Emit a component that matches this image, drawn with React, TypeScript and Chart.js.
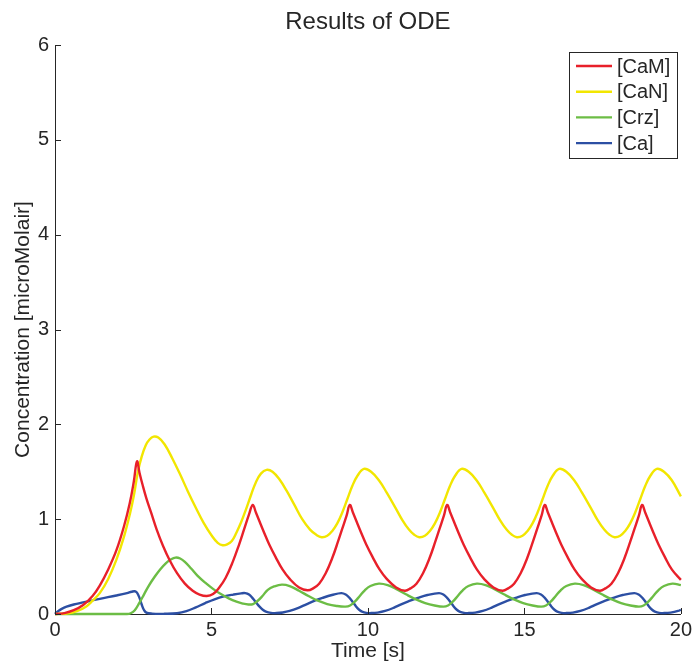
import React, { useEffect, useRef } from 'react';
import { Chart, registerables } from 'chart.js';

Chart.register(...registerables);

const TITLE = 'Results of ODE';
const X_LABEL = 'Time [s]';
const Y_LABEL = 'Concentration [microMolair]';
const X_TICKS = [0, 5, 10, 15, 20];
const Y_TICKS = [0, 1, 2, 3, 4, 5, 6];
const SERIES_NAMES = ['[CaM]', '[CaN]', '[Crz]', '[Ca]'];
const SERIES_COLORS = ['#e8202a', '#f2e600', '#6cbd45', '#2c4fa3'];

// [CaM]
const camT = [
  0, 0.3, 0.6, 0.9, 1.2, 1.43, 1.7, 1.96, 2.2, 2.39,
  2.52, 2.62, 2.7, 2.8, 2.92, 3.08, 3.25, 3.45, 3.66, 3.9,
  4.15, 4.4, 4.62, 4.85, 5.05, 5.25, 5.45, 5.68, 5.88, 6.05,
  6.2, 6.32, 6.42, 6.53, 6.68, 6.85, 7.05, 7.27, 7.5, 7.8,
  8.07, 8.25, 8.44, 8.65, 8.86, 9.05, 9.18, 9.32, 9.42, 9.52, 9.63, 9.78, 9.95, 10.15, 10.37, 10.6, 10.9,
  11.18, 11.36, 11.55, 11.76, 11.97, 12.16, 12.29, 12.43, 12.53, 12.63, 12.74, 12.89, 13.06, 13.26, 13.48, 13.71, 14.01,
  14.3, 14.48, 14.67, 14.88, 15.09, 15.28, 15.41, 15.55, 15.65, 15.75, 15.86, 16.01, 16.18, 16.38, 16.6, 16.83, 17.13,
  17.41, 17.59, 17.78, 17.99, 18.2, 18.39, 18.52, 18.66, 18.76, 18.86, 18.97, 19.12, 19.29, 19.49, 19.71, 20,
];
const camV = [
  0, 0.01, 0.04, 0.095, 0.19, 0.3, 0.47, 0.67, 0.92, 1.17,
  1.4, 1.61, 1.49, 1.36, 1.22, 1.06, 0.89, 0.72, 0.57, 0.43,
  0.32, 0.245, 0.205, 0.19, 0.21, 0.28, 0.38, 0.55, 0.73, 0.9,
  1.05, 1.15, 1.07, 0.98, 0.86, 0.73, 0.6, 0.47, 0.37, 0.28,
  0.25, 0.27, 0.32, 0.43, 0.59, 0.77, 0.9, 1.04, 1.15, 1.07, 0.98, 0.86, 0.73, 0.6, 0.47, 0.37, 0.28,
  0.245, 0.27, 0.32, 0.43, 0.59, 0.77, 0.9, 1.04, 1.15, 1.07, 0.98, 0.86, 0.73, 0.6, 0.47, 0.37, 0.28,
  0.245, 0.27, 0.32, 0.43, 0.59, 0.77, 0.9, 1.04, 1.15, 1.07, 0.98, 0.86, 0.73, 0.6, 0.47, 0.37, 0.28,
  0.245, 0.27, 0.32, 0.43, 0.59, 0.77, 0.9, 1.04, 1.15, 1.07, 0.98, 0.86, 0.73, 0.6, 0.47, 0.36,
];

// [CaN]
const canT = [
  0, 0.37, 0.7, 1.0, 1.2, 1.43, 1.7, 1.96, 2.2, 2.39,
  2.52, 2.65, 2.77, 2.9, 3.02, 3.15, 3.3, 3.5, 3.75, 4.0,
  4.25, 4.5, 4.75, 5.0, 5.2, 5.36, 5.5, 5.65, 5.8, 5.95,
  6.1, 6.27, 6.42, 6.58, 6.76, 6.95, 7.17, 7.4, 7.65, 7.9,
  8.15, 8.35,
  8.52, 8.7, 8.86, 9.02, 9.18, 9.34, 9.5, 9.67, 9.87, 10.1, 10.35, 10.6, 10.88, 11.1, 11.31, 11.48,
  11.64, 11.82, 11.98, 12.14, 12.3, 12.46, 12.62, 12.79, 12.99, 13.22, 13.47, 13.72, 14.0, 14.22, 14.43, 14.6,
  14.76, 14.94, 15.1, 15.26, 15.42, 15.58, 15.74, 15.91, 16.11, 16.34, 16.59, 16.84, 17.12, 17.34, 17.55, 17.72,
  17.88, 18.06, 18.22, 18.38, 18.54, 18.7, 18.86, 19.03, 19.23, 19.46, 19.71, 20,
];
const canV = [
  0, 0.005, 0.03, 0.08, 0.14, 0.22, 0.37, 0.57, 0.81, 1.05,
  1.25, 1.5, 1.66, 1.78, 1.84, 1.87, 1.86, 1.79, 1.64, 1.47,
  1.29, 1.12, 0.96, 0.83, 0.75, 0.725, 0.735, 0.77, 0.86, 0.97,
  1.1, 1.26, 1.39, 1.48, 1.52, 1.5, 1.42, 1.3, 1.15, 1.0,
  0.89, 0.835,
  0.81, 0.825, 0.875, 0.955, 1.07, 1.21, 1.35, 1.46, 1.53, 1.5, 1.41, 1.28, 1.12, 0.99, 0.89, 0.835,
  0.81, 0.825, 0.875, 0.955, 1.07, 1.21, 1.35, 1.46, 1.53, 1.5, 1.41, 1.28, 1.12, 0.99, 0.89, 0.835,
  0.81, 0.825, 0.875, 0.955, 1.07, 1.21, 1.35, 1.46, 1.53, 1.5, 1.41, 1.28, 1.12, 0.99, 0.89, 0.835,
  0.81, 0.825, 0.875, 0.955, 1.07, 1.21, 1.35, 1.46, 1.53, 1.5, 1.41, 1.24,
];

// [Crz]
const crzT = [
  0, 2.3, 2.42, 2.55, 2.7, 2.85, 3.0, 3.18, 3.36, 3.54,
  3.7, 3.85, 4.0, 4.15, 4.35, 4.55, 4.8, 5.05, 5.3, 5.55,
  5.8, 6.0, 6.18, 6.33, 6.48, 6.63, 6.8, 7.0, 7.25, 7.5,
  7.8, 8.1, 8.4, 8.7, 9.0,
  9.28, 9.43, 9.58, 9.74, 9.9, 10.08, 10.35, 10.63, 10.93, 11.23, 11.53, 11.83, 12.13,
  12.41, 12.56, 12.71, 12.87, 13.03, 13.21, 13.48, 13.76, 14.06, 14.36, 14.66, 14.96, 15.26,
  15.54, 15.69, 15.84, 16.0, 16.16, 16.34, 16.61, 16.89, 17.19, 17.49, 17.79, 18.09, 18.39,
  18.66, 18.81, 18.96, 19.12, 19.28, 19.46, 19.73, 20,
];
const crzV = [
  0, 0, 0.008, 0.04, 0.12, 0.21, 0.3, 0.39, 0.47, 0.535,
  0.575, 0.595, 0.585, 0.55, 0.48, 0.405, 0.33, 0.265, 0.21, 0.165,
  0.13, 0.11, 0.1, 0.105, 0.14, 0.19, 0.255, 0.29, 0.31, 0.295,
  0.245, 0.19, 0.14, 0.105, 0.085,
  0.078, 0.09, 0.13, 0.19, 0.25, 0.295, 0.32, 0.305, 0.26, 0.205, 0.155, 0.115, 0.09,
  0.078, 0.09, 0.13, 0.19, 0.25, 0.295, 0.32, 0.305, 0.26, 0.205, 0.155, 0.115, 0.09,
  0.078, 0.09, 0.13, 0.19, 0.25, 0.295, 0.32, 0.305, 0.26, 0.205, 0.155, 0.115, 0.09,
  0.078, 0.09, 0.13, 0.19, 0.25, 0.295, 0.32, 0.305,
];

// [Ca]
const caT = [
  0, 0.1, 0.2, 0.37, 0.6, 0.9, 1.43, 1.96, 2.3, 2.45,
  2.55, 2.62, 2.7, 2.77, 2.84, 2.92, 3.1, 3.5, 3.9, 4.2,
  4.5, 4.8, 5.1, 5.4, 5.7, 5.95, 6.08, 6.2, 6.32, 6.43,
  6.53, 6.64, 6.74, 6.9, 7.08, 7.28, 7.5, 7.78, 8.05, 8.3,
  8.55, 8.85,
  9.15, 9.29, 9.41, 9.52, 9.62, 9.72, 9.81, 9.95, 10.12, 10.31, 10.55, 10.82, 11.08, 11.35, 11.6, 11.9,
  12.27, 12.41, 12.53, 12.64, 12.74, 12.84, 12.93, 13.07, 13.24, 13.43, 13.67, 13.94, 14.2, 14.47, 14.72, 15.02,
  15.39, 15.53, 15.65, 15.76, 15.86, 15.96, 16.05, 16.19, 16.36, 16.55, 16.79, 17.06, 17.32, 17.59, 17.84, 18.14,
  18.51, 18.65, 18.77, 18.88, 18.98, 19.08, 19.17, 19.31, 19.48, 19.67, 19.91, 20,
];
const caV = [
  0, 0.03, 0.052, 0.078, 0.1, 0.122, 0.16, 0.195, 0.22, 0.235,
  0.24, 0.225, 0.17, 0.1, 0.045, 0.015, 0.004, 0.002, 0.008, 0.03,
  0.07, 0.115, 0.155, 0.185, 0.205, 0.218, 0.22, 0.205, 0.165, 0.12,
  0.08, 0.045, 0.025, 0.012, 0.01, 0.016, 0.032, 0.065, 0.105, 0.14,
  0.17, 0.2,
  0.22, 0.205, 0.17, 0.125, 0.08, 0.045, 0.025, 0.012, 0.01, 0.015, 0.032, 0.065, 0.105, 0.14, 0.17, 0.2,
  0.22, 0.205, 0.17, 0.125, 0.08, 0.045, 0.025, 0.012, 0.01, 0.015, 0.032, 0.065, 0.105, 0.14, 0.17, 0.2,
  0.22, 0.205, 0.17, 0.125, 0.08, 0.045, 0.025, 0.012, 0.01, 0.015, 0.032, 0.065, 0.105, 0.14, 0.17, 0.2,
  0.22, 0.205, 0.17, 0.125, 0.08, 0.045, 0.025, 0.012, 0.01, 0.015, 0.032, 0.045,
];

const SERIES_T = [camT, canT, crzT, caT];
const SERIES_V = [camV, canV, crzV, caV];

const FONT = '"Liberation Sans", Arial, Helvetica, sans-serif';
const INK = '#262626';

const decorPlugin = {
  id: 'decor',
  afterDraw(chart: any) {
    const { ctx, chartArea: a, scales } = chart;
    const x = scales.x;
    const y = scales.y;
    ctx.save();
    ctx.strokeStyle = INK;
    ctx.lineWidth = 1;
    ctx.beginPath();
    for (const t of X_TICKS) {
      const px = Math.round(x.getPixelForValue(t)) + 0.5;
      ctx.moveTo(px, a.bottom);
      ctx.lineTo(px, a.bottom - 6);
    }
    for (const t of Y_TICKS) {
      const py = Math.round(y.getPixelForValue(t)) + 0.5;
      ctx.moveTo(a.left, py);
      ctx.lineTo(a.left + 6, py);
    }
    ctx.stroke();

    ctx.fillStyle = INK;
    ctx.textAlign = 'center';
    ctx.textBaseline = 'alphabetic';
    ctx.font = `24px ${FONT}`;
    ctx.fillText(TITLE, (a.left + a.right) / 2, 29);

    ctx.font = `21px ${FONT}`;
    ctx.textBaseline = 'middle';
    ctx.fillText(X_LABEL, (a.left + a.right) / 2, 651);

    ctx.save();
    ctx.translate(23, (a.top + a.bottom) / 2);
    ctx.rotate(-Math.PI / 2);
    ctx.fillText(Y_LABEL, 0, 0);
    ctx.restore();

    const bx = 569.5, by = 52.5, bw = 108, bh = 106;
    ctx.fillStyle = '#ffffff';
    ctx.fillRect(bx, by, bw, bh);
    ctx.strokeStyle = INK;
    ctx.lineWidth = 1;
    ctx.strokeRect(bx, by, bw, bh);
    ctx.font = `20px ${FONT}`;
    ctx.textAlign = 'left';
    ctx.textBaseline = 'middle';
    SERIES_NAMES.forEach((name, i) => {
      const ry = 66 + i * 25.7;
      ctx.strokeStyle = SERIES_COLORS[i];
      ctx.lineWidth = 2.4;
      ctx.beginPath();
      ctx.moveTo(576, ry);
      ctx.lineTo(612, ry);
      ctx.stroke();
      ctx.fillStyle = INK;
      ctx.fillText(name, 617, ry + 1);
    });
    ctx.restore();
  },
};

export default function App() {
  const ref = useRef<HTMLCanvasElement | null>(null);
  useEffect(() => {
    if (!ref.current) return;
    const chart = new Chart(ref.current, {
      type: 'line',
      data: {
        datasets: SERIES_NAMES.map((name, i) => ({
          label: name,
          data: SERIES_T[i].map((t, j) => ({ x: t, y: SERIES_V[i][j] })),
          borderColor: SERIES_COLORS[i],
          backgroundColor: SERIES_COLORS[i],
          borderWidth: 2.4,
          pointRadius: 0,
          tension: 0.4,
          fill: false,
          clip: 6,
        })),
      },
      options: {
        animation: false,
        responsive: false,
        layout: { padding: { top: 45, right: 13, left: 0, bottom: 0 } },
        plugins: {
          legend: { display: false },
          title: { display: false },
          tooltip: { enabled: false },
        },
        scales: {
          x: {
            type: 'linear',
            min: 0,
            max: 20,
            afterFit: (s: any) => { s.height = 54; },
            afterBuildTicks: (s: any) => { s.ticks = X_TICKS.map((v) => ({ value: v })); },
            ticks: { color: INK, font: { family: FONT, size: 20 }, padding: 4, maxRotation: 0 },
            grid: { display: false, drawTicks: false },
            border: { display: true, color: INK, width: 1 },
          },
          y: {
            type: 'linear',
            min: 0,
            max: 6,
            afterFit: (s: any) => { s.width = 55; },
            afterBuildTicks: (s: any) => { s.ticks = Y_TICKS.map((v) => ({ value: v })); },
            ticks: { color: INK, font: { family: FONT, size: 20 }, padding: 6 },
            grid: { display: false, drawTicks: false },
            border: { display: true, color: INK, width: 1 },
          },
        },
      },
      plugins: [decorPlugin],
    });
    return () => chart.destroy();
  }, []);
  return (
    <div style={{ position: 'absolute', left: 0, top: 0, width: 696, height: 668, background: '#fff' }}>
      <canvas ref={ref} width={696} height={668} />
    </div>
  );
}
